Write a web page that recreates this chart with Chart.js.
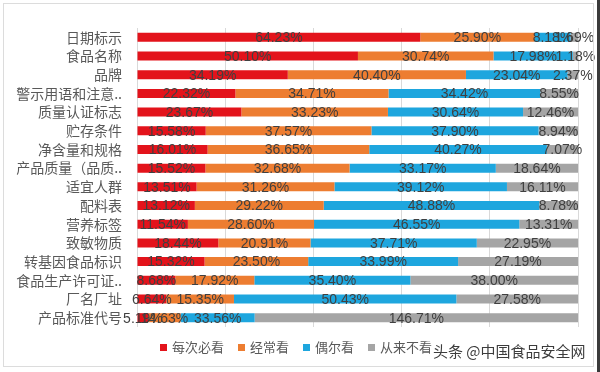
<!DOCTYPE html>
<html>
<head>
<meta charset="utf-8">
<script src="https://cdn.jsdelivr.net/npm/chart.js@4/dist/chart.umd.min.js"></script>
<style>
  html, body { margin: 0; padding: 0; background: #fff; }
  #wrap { position: relative; width: 600px; height: 372px; overflow: hidden; }
  #frame { position: absolute; left: 3px; top: 3px; width: 591px; height: 364px; border: 1px solid #dcdcdc; box-sizing: border-box; }
  #edge { position: absolute; right: 0; top: 0; width: 3px; height: 372px; background: #3a3a3a; }
  #legend { position: absolute; left: 160px; top: 337px; font: 13px "Noto Sans CJK SC", sans-serif; color: #595959; white-space: nowrap; }
  #legend span.item { display: inline-block; margin-right: 14px; }
  #legend i { display: inline-block; width: 7px; height: 7px; margin-right: 5px; vertical-align: 1px; }
  #mark { position: absolute; left: 433px; top: 340px; font: 15px "Noto Sans CJK SC", sans-serif; color: #3c3c3c; white-space: nowrap; }
</style>
</head>
<body>
<div id="wrap">
  <canvas id="chart" width="600" height="372"></canvas>
  <div id="frame"></div>
  <div id="edge"></div>
  <div id="legend"></div>
  <div id="mark">头条 @中国食品安全网</div>
</div>
<script>
const categories = ['日期标示', '食品名称', '品牌', '警示用语和注意..', '质量认证标志', '贮存条件', '净含量和规格',
  '产品质量（品质..', '适宜人群', '配料表', '营养标签', '致敏物质', '转基因食品标识', '食品生产许可证..', '厂名厂址', '产品标准代号'];

const seriesNames = ['每次必看', '经常看', '偶尔看', '从来不看'];
const seriesColors = ['#e3131b', '#ed7d31', '#1ea6de', '#a5a5a5'];

// raw values as printed in the picture (bars are 100% stacked)
const everyTime = [64.23, 50.10, 34.19, 22.32, 23.67, 15.58, 16.01, 15.52, 13.51, 13.12, 11.54, 18.44, 15.32, 8.68, 6.64, 5.19];
const often     = [25.90, 30.74, 40.40, 34.71, 33.23, 37.57, 36.65, 32.68, 31.26, 29.22, 28.60, 20.91, 23.50, 17.92, 15.35, 14.63];
const sometimes = [8.18, 17.98, 23.04, 34.42, 30.64, 37.90, 40.27, 33.17, 39.12, 48.88, 46.55, 37.71, 33.99, 35.40, 50.43, 33.56];
const never     = [1.69, 1.18, 2.37, 8.55, 12.46, 8.94, 7.07, 18.64, 16.11, 8.78, 13.31, 22.95, 27.19, 38.00, 27.58, 146.71];

const raw = [everyTime, often, sometimes, never];
const totals = categories.map((c, i) => raw.reduce((s, arr) => s + arr[i], 0));

const datasets = raw.map((arr, k) => ({
  label: seriesNames[k],
  data: arr.map((v, i) => v / totals[i] * 100),
  rawValues: arr,
  backgroundColor: seriesColors[k],
  borderWidth: 0,
  categoryPercentage: 1,
  barPercentage: 0.48
}));

// value labels centred on each segment
const segmentLabels = {
  id: 'segmentLabels',
  afterDatasetsDraw(chart) {
    const ctx = chart.ctx;
    ctx.save();
    ctx.font = '14px "Liberation Sans", "Noto Sans CJK SC", sans-serif';
    ctx.fillStyle = '#404040';
    ctx.textAlign = 'center';
    ctx.textBaseline = 'middle';
    chart.data.datasets.forEach((ds, k) => {
      const meta = chart.getDatasetMeta(k);
      meta.data.forEach((bar, i) => {
        const cx = (bar.x + bar.base) / 2;
        ctx.fillText(ds.rawValues[i].toFixed(2) + '%', cx, bar.y + 1);
      });
    });
    ctx.restore();
  }
};

const whiteBg = {
  id: 'whiteBg',
  beforeDraw(chart) {
    const ctx = chart.ctx;
    ctx.save();
    ctx.fillStyle = '#fff';
    ctx.fillRect(0, 0, chart.width, chart.height);
    ctx.restore();
  }
};

new Chart(document.getElementById('chart'), {
  type: 'bar',
  data: { labels: categories, datasets: datasets },
  options: {
    indexAxis: 'y',
    responsive: false,
    animation: false,
    layout: { padding: { left: 0, right: 22, top: 28, bottom: 45 } },
    plugins: {
      legend: { display: false },
      tooltip: { enabled: false }
    },
    scales: {
      x: {
        stacked: true,
        min: 0,
        max: 100,
        ticks: { display: false, stepSize: 20 },
        grid: { color: '#d9d9d9', drawTicks: false },
        border: { display: false }
      },
      y: {
        stacked: true,
        grid: { display: false },
        border: { display: false },
        ticks: {
          color: '#595959',
          padding: 7,
          autoSkip: false,
          font: { family: '"Noto Sans CJK SC", sans-serif', size: 14 }
        },
        afterFit(scale) { scale.width = 137; }
      }
    }
  },
  plugins: [whiteBg, segmentLabels]
});

const legendBox = document.getElementById('legend');
seriesNames.forEach((name, k) => {
  const item = document.createElement('span');
  item.className = 'item';
  item.innerHTML = '<i style="background:' + seriesColors[k] + '"></i>' + name;
  legendBox.appendChild(item);
});
</script>
</body>
</html>
